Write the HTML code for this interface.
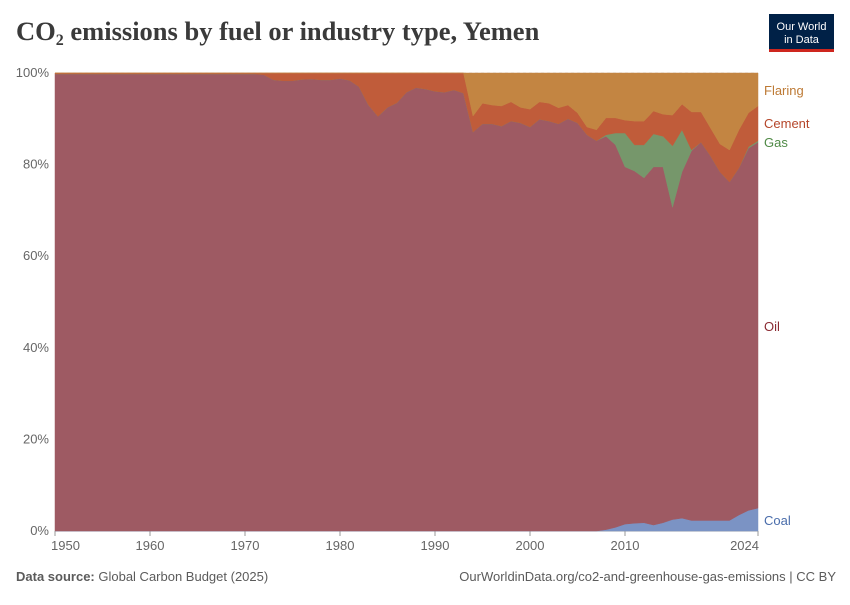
<!DOCTYPE html>
<html><head><meta charset="utf-8">
<style>
body{margin:0;background:#fff;width:850px;height:600px;overflow:hidden;font-family:"Liberation Sans",sans-serif;}
</style></head>
<body>
<svg id="chart" width="850" height="600" xmlns="http://www.w3.org/2000/svg">
<text x="16" y="40" font-family="Liberation Serif, serif" font-size="26.5" font-weight="bold" fill="#3a3a3a">CO<tspan font-size="16" dy="5">2</tspan><tspan dy="-5"> emissions by fuel or industry type, Yemen</tspan></text>
<g>
<rect x="769" y="14" width="65" height="38" fill="#002147"/>
<rect x="769" y="49" width="65" height="3" fill="#ce261e"/>
<text x="801.5" y="30" text-anchor="middle" font-size="11" fill="#fff">Our World</text>
<text x="801.5" y="43" text-anchor="middle" font-size="11" fill="#fff">in Data</text>
</g>
<g id="grid"></g>
<g id="areas"></g>
<g id="labels"></g>
<text x="16" y="581" font-size="13" fill="#5b5b5b"><tspan font-weight="bold">Data source:</tspan> Global Carbon Budget (2025)</text>
<text x="836" y="581" font-size="13" fill="#5b5b5b" text-anchor="end">OurWorldinData.org/co2-and-greenhouse-gas-emissions | CC BY</text>
</svg>
<script>
const years=[];for(let y=1950;y<=2024;y++)years.push(y);
const coal=[0,0,0,0,0,0,0,0,0,0,0,0,0,0,0,0,0,0,0,0,0,0,0,0,0,0,0,0,0,0,0,0,0,0,0,0,0,0,0,0,0,0,0,0,0,0,0,0,0,0,0,0,0,0,0,0,0,0,0.3,0.8,1.5,1.7,1.8,1.3,1.8,2.5,2.8,2.3,2.3,2.3,2.3,2.3,3.5,4.5,5.0];
const oil=[99.8,99.8,99.8,99.8,99.8,99.8,99.8,99.8,99.8,99.8,99.8,99.8,99.8,99.8,99.8,99.8,99.8,99.8,99.8,99.8,99.8,99.8,99.6,98.5,98.3,98.3,98.6,98.7,98.5,98.5,98.8,98.4,97,93,90.5,92.5,93.5,95.8,96.8,96.5,96,95.8,96.3,95.6,87.1,88.9,88.9,88.4,89.5,89.1,88.2,89.9,89.5,88.9,90.0,89.1,86.5,85.2,85.9,83.5,78.0,76.9,75.3,78.2,77.7,68.2,75.6,80.7,82.6,79.6,76.1,73.9,75.8,79.1,79.9];
const gas=[0,0,0,0,0,0,0,0,0,0,0,0,0,0,0,0,0,0,0,0,0,0,0,0,0,0,0,0,0,0,0,0,0,0,0,0,0,0,0,0,0,0,0,0,0,0,0,0,0,0,0,0,0,0,0,0,0,0,0.3,2.6,7.4,5.7,7.2,7.2,6.7,13.4,9.2,0.2,0,0,0,0,0,0.3,0.3];
const cement=[0.2,0.2,0.2,0.2,0.2,0.2,0.2,0.2,0.2,0.2,0.2,0.2,0.2,0.2,0.2,0.2,0.2,0.2,0.2,0.2,0.2,0.2,0.4,1.5,1.7,1.7,1.4,1.3,1.5,1.5,1.2,1.6,3,7,9.5,7.5,6.5,4.2,3.2,3.5,4,4.2,3.7,4.4,3.5,4.5,4.1,4.4,4.2,3.4,3.9,3.8,3.9,3.5,3.0,2.2,1.7,2.4,3.7,3.3,2.8,5.2,5.2,5.0,4.8,6.7,5.6,8.3,6.6,6.1,6.1,7.0,8.3,7.4,7.6];
const flaring=[0,0,0,0,0,0,0,0,0,0,0,0,0,0,0,0,0,0,0,0,0,0,0,0,0,0,0,0,0,0,0,0,0,0,0,0,0,0,0,0,0,0,0,0,9.4,6.6,7.0,7.2,6.3,7.5,7.9,6.3,6.6,7.6,7.0,8.7,11.8,12.4,9.8,9.8,10.3,10.5,10.5,8.3,9.0,9.2,6.8,8.5,8.5,12.0,15.5,16.8,12.4,8.7,7.2];
const seriesNames=["coal","oil","gas","cement","flaring"];
const seriesLabels=["Coal","Oil","Gas","Cement","Flaring"];
const yTicks=[0,20,40,60,80,100];
const xTicks=[1950,1960,1970,1980,1990,2000,2010,2024];
const fills=["#7b93c4","#9e5a63","#76976b","#c05c3a","#c38542"];
const labelColors=["#4a6dab","#8a2a32","#4f8a46","#b5462a","#bd7a35"];
const X0=55,X1=758,Y0=531,Y1=73;
const xs=y=>X0+(y-1950)*(X1-X0)/(2024-1950);
const ys=v=>Y0-v*(Y0-Y1)/100;
const NS="http://www.w3.org/2000/svg";
const grid=document.getElementById('grid'),areas=document.getElementById('areas'),labels=document.getElementById('labels');
function mk(tag,attrs,parent){const e=document.createElementNS(NS,tag);for(const k in attrs)e.setAttribute(k,attrs[k]);parent.appendChild(e);return e;}
yTicks.forEach(t=>{
 if(t>0){const l=mk('line',{x1:X0,x2:X1,y1:ys(t),y2:ys(t),stroke:'#ddd','stroke-dasharray':'3,3'},grid);
 
 }
 const tx=mk('text',{x:49,y:ys(t)+4,'text-anchor':'end','font-size':13,fill:'#666'},grid);tx.textContent=t+'%';
 
 
});
xTicks.forEach((t,i)=>{
 const x=xs(t);
 const tk=mk('line',{x1:x,x2:x,y1:Y0,y2:Y0+5,stroke:'#999'},grid);
 
 
 let ax=x,anc='middle';if(i==0){ax=x-4;anc='start';}if(i==xTicks.length-1){ax=x+1;anc='end';}
 const tx=mk('text',{x:ax,y:Y0+19,'text-anchor':anc,'font-size':13,fill:'#666'},grid);tx.textContent=t;
 
 
});
const data=[coal,oil,gas,cement,flaring];
let base=years.map(()=>0);
data.forEach((s,si)=>{
 const top=base.map((b,i)=>b+s[i]);
 let d='M'+years.map((y,i)=>xs(y)+','+ys(top[i])).join('L');
 for(let i=years.length-1;i>=0;i--)d+='L'+xs(years[i])+','+ys(base[i]);
 d+='Z';
 const p=mk('path',{d:d,fill:fills[si],stroke:fills[si],'stroke-width':0.5},areas);
 
 
 base=top;
});
const ax=mk('line',{x1:X0,x2:X1,y1:Y0,y2:Y0,stroke:'#999'},grid);


const labelY=[521,327,143,124,91];
seriesLabels.forEach((n,i)=>{
 const t=mk('text',{x:764,y:labelY[i]+4,'font-size':13,fill:labelColors[i]},labels);t.textContent=n;
 
 
});
</script>
</body></html>
